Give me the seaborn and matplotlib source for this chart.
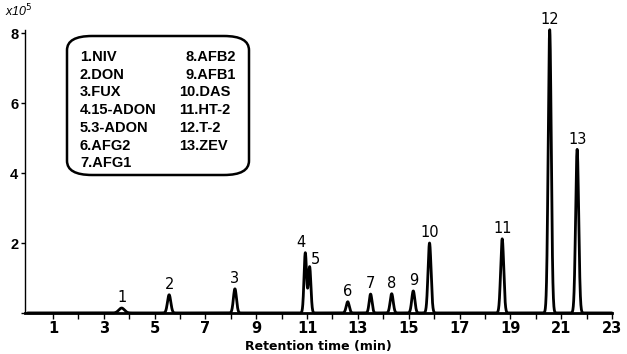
import numpy as np
import pandas as pd
import matplotlib
matplotlib.use("Agg")
import matplotlib.pyplot as plt
import seaborn as sns
from matplotlib.patches import FancyBboxPatch

# peak table (time in min, height in 1e5 counts)
peak_ids = ["1", "2", "3", "4", "5", "6", "7", "8", "9", "10", "11", "12", "13"]
peak_time = [3.70, 5.57, 8.16, 10.93, 11.10, 12.60, 13.50, 14.33, 15.18, 15.82, 18.68, 20.55, 21.63]
peak_height = [0.14, 0.52, 0.69, 1.72, 1.32, 0.32, 0.54, 0.55, 0.63, 2.00, 2.12, 8.10, 4.68]
peak_width = [0.11, 0.065, 0.06, 0.05, 0.05, 0.06, 0.055, 0.06, 0.06, 0.06, 0.06, 0.06, 0.06]
compounds = ["NIV", "DON", "FUX", "15-ADON", "3-ADON", "AFG2", "AFG1",
             "AFB2", "AFB1", "DAS", "HT-2", "T-2", "ZEV"]
x_ticks = [1, 3, 5, 7, 9, 11, 13, 15, 17, 19, 21, 23]
y_ticks = [0, 2, 4, 6, 8]

if __name__ == "__main__":
    sns.set_style("white")
    plt.rcParams["font.family"] = ["DejaVu Sans"]
    plt.rcParams["text.color"] = "k"
    plt.rcParams["xtick.color"] = "k"
    plt.rcParams["ytick.color"] = "k"
    plt.rcParams["axes.labelcolor"] = "k"

    t = np.linspace(0, 23, 6000)
    signal = np.zeros_like(t)
    for pt, ph, pw in zip(peak_time, peak_height, peak_width):
        signal += ph * np.exp(-0.5 * ((t - pt) / pw) ** 2)
    df = pd.DataFrame({"time": t, "signal": signal})

    fig = plt.figure(figsize=(6.27, 3.54), dpi=100)
    ax = fig.add_axes([0.040, 0.116, 0.936, 0.799])
    sns.lineplot(data=df, x="time", y="signal", color="k", lw=2, ax=ax, clip_on=False)

    ax.set_xlim(-0.1, 23)
    ax.set_ylim(0, 8.09)
    for s in ["top", "right"]:
        ax.spines[s].set_visible(False)
    ax.spines["left"].set_linewidth(1)
    ax.spines["bottom"].set_linewidth(2)
    ax.spines["left"].set_color("k")
    ax.spines["bottom"].set_color("k")

    ax.set_xticks(x_ticks)
    ax.set_xticks(np.arange(2, 23, 2), minor=True)
    ax.set_xticklabels([str(v) for v in x_ticks], fontsize=10.5, fontweight="bold")
    ax.tick_params(axis="x", which="both", direction="out", length=4, width=1, bottom=True, pad=2)
    ax.set_yticks(y_ticks)
    ax.set_yticklabels(["" if v == 0 else str(v) for v in y_ticks], fontsize=10.5, fontweight="bold",
                       family="Liberation Sans")
    ax.tick_params(axis="y", direction="out", length=3, width=1, left=True, pad=2)
    ax.set_xlabel("Retention time (min)", fontsize=9, fontweight="bold", labelpad=3)
    ax.set_ylabel(None)
    ax.grid(False)

    fig.text(0.008, 0.955, "x10$^5$", fontsize=9, style="italic", family="Liberation Sans")

    # peak numbers
    offsets = {"4": (-3, 2), "5": (4, 0)}
    for pid, pt, ph in zip(peak_ids, peak_time, peak_height):
        dx, dy = offsets.get(pid, (0, 2))
        ax.annotate(pid, (pt, ph), xytext=(dx, dy), textcoords="offset points",
                    ha="center", va="bottom", fontsize=10.5, fontweight="medium",
                    annotation_clip=False)

    # compound key
    box = FancyBboxPatch((67 / 627, 1 - 175 / 354), 182 / 627, 139 / 354,
                         boxstyle="round,pad=0,rounding_size=0.04",
                         transform=fig.transFigure, fc="white", ec="k", lw=1.8)
    fig.patches.append(box)
    for i, name in enumerate(compounds):
        label = f"{i + 1}.{name}"
        if i < 7:
            xp, yp = 80, 57 + i * 17.7
        else:
            xp, yp = (186 if i < 9 else 179), 57 + (i - 7) * 17.7
        fig.text(xp / 627, 1 - yp / 354, label, fontsize=10.5, fontweight="bold",
                 family="Liberation Sans", va="center", ha="left")

    fig.savefig("out.png", dpi=100)
